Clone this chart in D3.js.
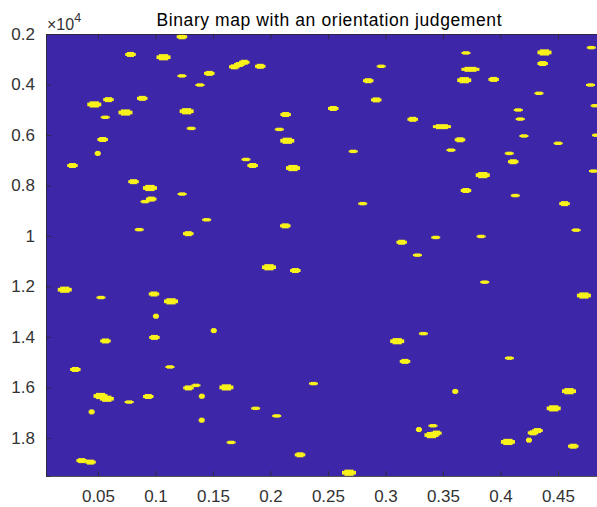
<!DOCTYPE html>
<html>
<head>
<meta charset="utf-8">
<script src="https://cdn.jsdelivr.net/npm/d3@7"></script>
<style>
  html, body { margin: 0; padding: 0; background: #fff; }
  svg { display: block; }
  text { font-family: "Liberation Sans", Arial, Helvetica, sans-serif; }
</style>
</head>
<body>
<script>
// Detected regions in the binary map: centre column (x), centre row (y) and blob class.
// Classes: q = compact square, s = small, m = medium, l = large, w = elongated.
const blobX = [
  0.1230, 0.0783, 0.1070, 0.1685, 0.1729, 0.1772, 0.1911, 0.1230, 0.1468, 0.1387,
  0.0468, 0.0591, 0.0885, 0.0739, 0.0563, 0.1271, 0.1311, 0.2132, 0.2077, 0.2146,
  0.0541, 0.0498, 0.0278, 0.1787, 0.1845, 0.2196, 0.0809, 0.0952, 0.1232, 0.0963,
  0.0909, 0.1445, 0.0859, 0.1285, 0.2129,
  0.3700, 0.4383, 0.4790, 0.2963, 0.3739, 0.4367, 0.2850, 0.3685, 0.3941, 0.4783,
  0.4335, 0.2920, 0.2546, 0.4824, 0.4155, 0.4172, 0.3237, 0.3491, 0.3648, 0.3570,
  0.4204, 0.4502, 0.2720, 0.4077, 0.4111, 0.3846, 0.3700, 0.4129, 0.4809, 0.4835,
  0.2802, 0.4557, 0.4658, 0.3141, 0.3437, 0.3832, 0.3278,
  0.1987, 0.2216, 0.0211, 0.0526, 0.0987, 0.1135, 0.1004, 0.1507, 0.0565, 0.0991,
  0.0303, 0.1126, 0.1287, 0.1352, 0.1617, 0.2374, 0.0522, 0.0577, 0.0771, 0.0937,
  0.1403, 0.0445, 0.1871, 0.2054, 0.1402, 0.1658, 0.2257, 0.0358, 0.0435,
  0.3863, 0.4726, 0.3330, 0.3102, 0.3170, 0.4078, 0.3607, 0.4596, 0.4463, 0.3291,
  0.3413, 0.3400, 0.3443, 0.4065, 0.4248, 0.4283, 0.4322, 0.4633, 0.2683
];
const blobY = [
  2110, 2810, 2920, 3300, 3210, 3120, 3280, 3660, 3560, 4020,
  4790, 4600, 4550, 5110, 5300, 5060, 5740, 5190, 5780, 6230,
  6180, 6730, 7210, 6970, 7210, 7310, 7850, 8100, 8340, 8540,
  8640, 9360, 9750, 9910, 9600,
  2750, 2730, 2540, 3280, 3400, 3170, 3850, 3830, 3800, 4020,
  4350, 4610, 4950, 4840, 5010, 5370, 5380, 5670, 6190, 6600,
  6040, 6330, 6650, 6730, 7060, 7590, 8200, 8400, 7430, 6010,
  8720, 8720, 9770, 10250, 10060, 10020, 10760,
  11240, 11370, 12130, 12440, 12300, 12590, 13180, 13750, 14160, 14020,
  15290, 15190, 16020, 15920, 16000, 15850, 16340, 16450, 16580, 16360,
  16350, 16970, 16830, 17130, 17300, 18180, 18670, 18900, 18960,
  11830, 12360, 13870, 14170, 14970, 14840, 16160, 16150, 16830, 17670,
  17520, 17890, 17810, 18160, 18090, 17800, 17710, 18330, 19380
];
const blobKind = [
  "m", "m", "l", "m", "m", "m", "m", "s", "m", "s",
  "l", "m", "m", "l", "s", "l", "s", "m", "s", "l",
  "m", "q", "m", "s", "m", "l", "m", "l", "s", "m",
  "s", "s", "s", "m", "m",
  "s", "l", "s", "s", "w", "m", "m", "l", "m", "s",
  "s", "m", "m", "s", "s", "s", "m", "w", "m", "s",
  "s", "s", "s", "s", "m", "l", "m", "s", "s", "s",
  "s", "m", "s", "m", "s", "s", "s",
  "l", "m", "l", "s", "m", "l", "q", "q", "m", "m",
  "m", "s", "m", "s", "l", "s", "l", "l", "s", "m",
  "q", "q", "s", "s", "q", "s", "m", "m", "m",
  "s", "l", "s", "l", "m", "s", "q", "l", "l", "q",
  "s", "l", "m", "l", "q", "m", "m", "m", "l"
];

// Axis ticks
const xTicks = [0.05, 0.1, 0.15, 0.2, 0.25, 0.3, 0.35, 0.4, 0.45];
const xTickLabels = ["0.05", "0.1", "0.15", "0.2", "0.25", "0.3", "0.35", "0.4", "0.45"];
const yTicks = [2000, 4000, 6000, 8000, 10000, 12000, 14000, 16000, 18000];
const yTickLabels = ["0.2", "0.4", "0.6", "0.8", "1", "1.2", "1.4", "1.6", "1.8"];

const titleText = "Binary map with an orientation judgement";

// ---- layout ----
const W = 597, H = 507;
const plot = { left: 46, top: 34, right: 612, bottom: 476 };
const BG = "#3E26A8", FG = "#F9F21A", AXIS = "#2b2b2b", LABEL = "#333333";

const x = d3.scaleLinear().domain([0.0048, 0.497]).range([plot.left, plot.right]);
const y = d3.scaleLinear().domain([2000, 19510]).range([plot.top, plot.bottom]);

// blob footprint in screen pixels per class
const kindSize = {
  q: [6, 5], s: [9, 3.4], m: [10.5, 5], l: [14, 6.2], w: [18, 5]
};

const svg = d3.select("body").append("svg")
  .attr("width", W).attr("height", H);

svg.append("defs").append("clipPath").attr("id", "plotClip")
  .append("rect")
  .attr("x", plot.left).attr("y", plot.top)
  .attr("width", plot.right - plot.left).attr("height", plot.bottom - plot.top);

// image background
svg.append("rect")
  .attr("x", plot.left).attr("y", plot.top)
  .attr("width", plot.right - plot.left).attr("height", plot.bottom - plot.top)
  .attr("fill", BG);

const blobs = blobX.map((bx, i) => ({ x: bx, y: blobY[i], k: blobKind[i] }));

const gBlobs = svg.append("g").attr("clip-path", "url(#plotClip)");
const blobG = gBlobs.selectAll("g.blob").data(blobs).join("g")
  .attr("class", "blob")
  .attr("transform", d => `translate(${x(d.x)},${y(d.y)})`);

// each blob as a stepped, pixel-like lozenge: a wide band plus a narrower core
blobG.append("rect")
  .attr("x", d => -kindSize[d.k][0] / 2)
  .attr("y", d => -kindSize[d.k][1] * 0.3)
  .attr("width", d => kindSize[d.k][0])
  .attr("height", d => kindSize[d.k][1] * 0.6)
  .attr("fill", FG);
blobG.append("rect")
  .attr("x", d => -kindSize[d.k][0] * 0.33)
  .attr("y", d => -kindSize[d.k][1] / 2)
  .attr("width", d => kindSize[d.k][0] * 0.66)
  .attr("height", d => kindSize[d.k][1])
  .attr("fill", FG);

// ---- axes (inward ticks on all four sides, MATLAB style) ----
const tickLen = 5;
const xAxisB = d3.axisBottom(x).tickValues(xTicks).tickSize(-tickLen).tickPadding(tickLen + 9)
  .tickFormat((d, i) => xTickLabels[i]);
const xAxisT = d3.axisTop(x).tickValues(xTicks).tickSize(-tickLen).tickFormat("");
const yAxisL = d3.axisLeft(y).tickValues(yTicks).tickSize(-tickLen).tickPadding(tickLen + 6)
  .tickFormat((d, i) => yTickLabels[i]);

function styleAxis(g) {
  g.select(".domain").attr("stroke", AXIS).attr("stroke-width", 0.8);
  g.selectAll(".tick line").attr("stroke", AXIS).attr("stroke-width", 0.8);
  g.selectAll(".tick text").attr("fill", LABEL).attr("font-size", 17)
    .attr("font-family", '"Liberation Sans", Arial, sans-serif');
}

svg.append("g").attr("transform", `translate(0,${plot.bottom})`).call(xAxisB).call(styleAxis);
svg.append("g").attr("transform", `translate(0,${plot.top})`).call(xAxisT).call(styleAxis);
svg.append("g").attr("transform", `translate(${plot.left},0)`).call(yAxisL).call(styleAxis);

// exponent marker above the y axis
const expo = svg.append("text")
  .attr("x", plot.left + 1).attr("y", 30)
  .attr("fill", LABEL).attr("font-size", 16);
expo.append("tspan").text("\u00d710");
expo.append("tspan").attr("dy", -8).attr("font-size", 12.5).text("4");

// title
svg.append("text")
  .attr("x", (plot.left + plot.right) / 2).attr("y", 26)
  .attr("text-anchor", "middle")
  .attr("fill", "#000").attr("font-size", 17.5)
  .attr("textLength", 345).attr("lengthAdjust", "spacing")
  .text(titleText);
</script>
</body>
</html>
